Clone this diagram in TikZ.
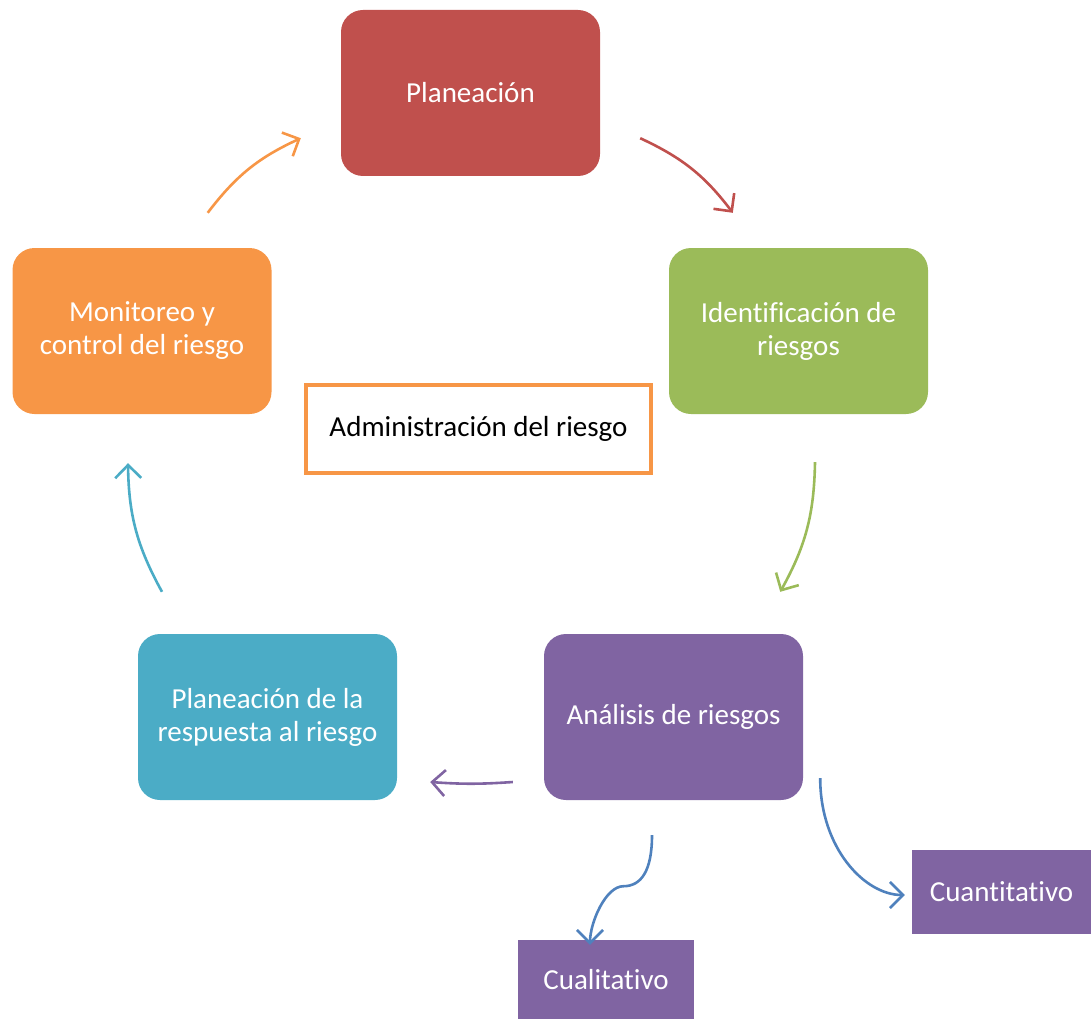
\documentclass[tikz,border=0pt]{standalone}
\usepackage{fontspec}
\setmainfont[Ligatures=NoCommon]{Carlito}
\usetikzlibrary{arrows.meta,calc}

\definecolor{cRed}{HTML}{C0504D}
\definecolor{cGreen}{HTML}{9BBB59}
\definecolor{cPurple}{HTML}{8064A2}
\definecolor{cCyan}{HTML}{4BACC6}
\definecolor{cOrange}{HTML}{F79646}
\definecolor{cBlue}{HTML}{4F81BD}

\tikzset{
  stage/.style={rectangle, rounded corners=22pt, minimum width=259pt, minimum height=166pt,
    inner sep=0pt, text=white, align=center, font=\fontsize{29}{33}\selectfont},
  leaf/.style={rectangle, fill=cPurple, inner sep=0pt, text=white,
    font=\fontsize{29}{33}\selectfont},
  flow/.style={line width=2.6pt, -{Straight Barb[length=13pt,width=26pt,line width=2.6pt]}},
}

\begin{document}
\begin{tikzpicture}[x=1pt,y=1pt]
\useasboundingbox (0,0) rectangle (1091,-1019);

% stages of the cycle
\node[stage, fill=cRed]    (plan)  at (470.5,-93)  {Planeación};
\node[stage, fill=cGreen]  (ident) at (798.5,-331) {Identificación de\\riesgos};
\node[stage, fill=cPurple] (anal)  at (673.5,-717) {Análisis de riesgos};
\node[stage, fill=cCyan]   (resp)  at (267.5,-717) {Planeación de la\\respuesta al riesgo};
\node[stage, fill=cOrange] (moni)  at (142,-331)   {Monitoreo y\\control del riesgo};

% centre title
\node[draw=cOrange, line width=4pt, fill=white, minimum width=345pt, minimum height=88pt,
  inner sep=0pt, font=\fontsize{29}{33}\selectfont] (admin) at (478.5,-429) {Administración del riesgo};

% kinds of analysis
\node[leaf, minimum width=179pt, minimum height=84pt] (cuant) at (1001.5,-892) {Cuantitativo};
\node[leaf, minimum width=176pt, minimum height=79pt] (cual)  at (606,-979.5)  {Cualitativo};

% cycle arrows
\draw[flow, cRed]    ($(plan.south east)+(40,38)$)   to[bend left=14] ($(ident.north west)+(64,35)$);
\draw[flow, cGreen]  ($(ident.south)+(16.5,-48)$)    to[bend left=14] ($(anal.north east)+(-23,42)$);
\draw[flow, cPurple] ($(anal.west)+(-31,-65)$)       to[bend left=4]  ($(resp.east)+(33,-65)$);
\draw[flow, cCyan]   ($(resp.north)+(-105.5,42)$)    to[bend left=14] ($(moni.south)+(-14,-49)$);
\draw[flow, cOrange] ($(moni.north east)+(-64,35)$)  to[bend left=14] ($(plan.south west)+(-40,38)$);

% analysis branches
\draw[flow, cBlue] ($(anal.south)+(-21.5,-35)$)
  .. controls +(0,-35) and +(18,0) .. ($(anal.south)+(-50,-86)$)
  .. controls +(-18,0) and +(0,22) .. ($(cual.north)+(-16,-5)$);
\draw[flow, cBlue] ($(anal.south east)+(17,22)$)
  .. controls +(0,-70) and +(-40,0) .. ($(cuant.west)+(-7,-3)$);
\end{tikzpicture}
\end{document}
